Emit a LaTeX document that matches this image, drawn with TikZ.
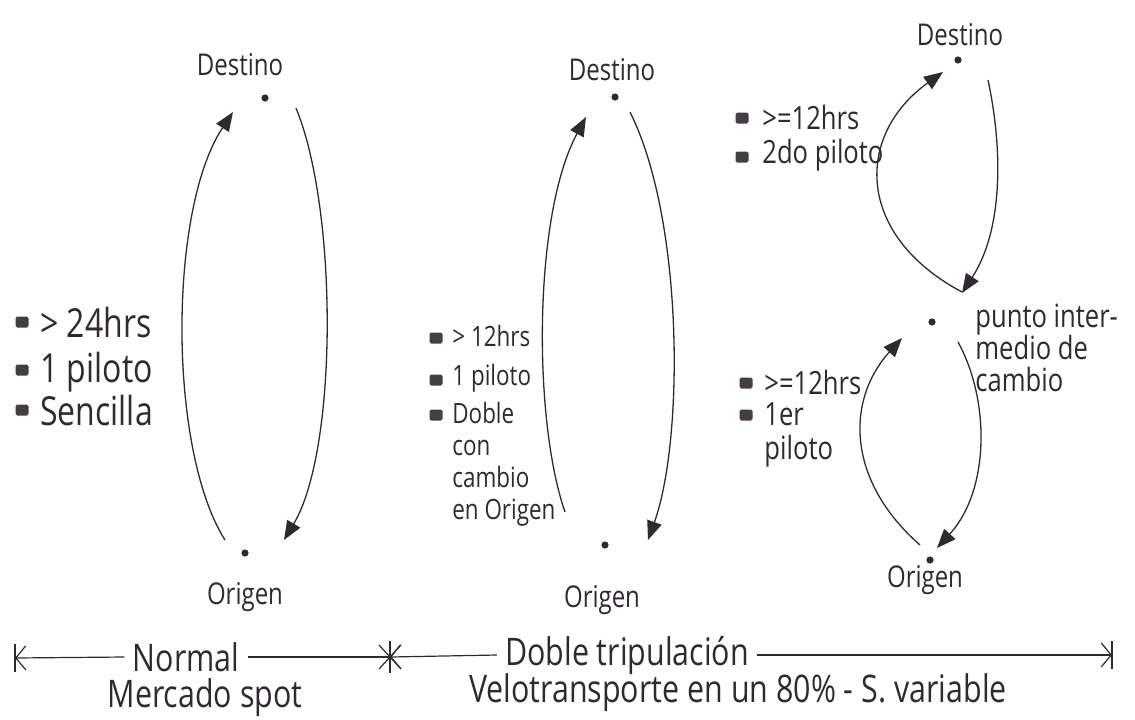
\documentclass[tikz,border=0pt]{standalone}
\usepackage{fontspec}
\setmainfont{Open Sans}[FakeStretch=0.8]
\usetikzlibrary{arrows.meta}
\definecolor{ink}{RGB}{48,42,48}
\begin{document}
\begin{tikzpicture}[x=0.5pt,y=-0.5pt,
  every node/.style={text=ink, inner sep=0pt},
  place/.style={font=\fontsize{15}{18}\selectfont},
  pt/.style={circle, fill=ink, minimum size=3.6pt},
  sq/.style={rectangle, rounded corners=0.8pt, fill=ink!90, minimum width=6.5pt, minimum height=5.5pt},
  itemL/.style={anchor=west, font=\fontsize{20}{24}\selectfont},
  itemM/.style={anchor=west, font=\fontsize{14}{16}\selectfont},
  itemR/.style={anchor=west, font=\fontsize{16}{17}\selectfont, align=left},
  route/.style={draw=ink, line width=0.65pt, -{Triangle[length=9.5pt,width=7.5pt]}},
  axis/.style={draw=ink, line width=0.6pt},
  barb/.style={{Straight Barb[length=5pt,width=12pt]}-},
  bottom/.style={font=\fontsize{19}{22}\selectfont}]
\useasboundingbox (0,0) rectangle (1135,719);

% ---------- Normal: single driver ----------
\node[place] (dest1) at (240,65) {Destino};
\node[pt] (d1) at (265,98) {};
\node[place] (orig1) at (245,597) {Origen};
\node[pt] (o1) at (245,553) {};
\coordinate (a1s) at (225,540);
\coordinate (a1e) at (233,112);
\coordinate (b1s) at (296,108);
\coordinate (b1e) at (284,540);
\draw[route] (a1s) .. controls (168,450) and (168,210) .. (a1e);
\draw[route] (b1s) .. controls (338,210) and (338,450) .. (b1e);

\node[sq] (s11) at (22,322) {};
\node[itemL] (t11) at (40,322) {> 24hrs};
\node[sq] (s12) at (22,370) {};
\node[itemL] (t12) at (40,372) {1 piloto};
\node[sq] (s13) at (22,410) {};
\node[itemL] (t13) at (40,410) {Sencilla};

% ---------- Double crew, swap at origin ----------
\node[place] (dest2) at (612,70) {Destino};
\node[pt] (d2) at (615,97) {};
\node[place] (orig2) at (602,600) {Origen};
\node[pt] (o2) at (605,545) {};
\coordinate (a2s) at (565,512);
\coordinate (a2e) at (586,117);
\coordinate (b2s) at (630,112);
\coordinate (b2e) at (648,540);
\draw[route] (a2s) .. controls (533,420) and (533,215) .. (a2e);
\draw[route] (b2s) .. controls (684,220) and (684,440) .. (b2e);

\node[sq] (s21) at (436,338) {};
\node[itemM] (t21) at (452,336) {> 12hrs};
\node[sq] (s22) at (436,380) {};
\node[itemM] (t22) at (452,378) {1 piloto};
\node[sq] (s23) at (436,415) {};
\node[itemM, anchor=north west, align=left, font=\fontsize{14}{16}\selectfont] (t23) at (452,402) {Doble\\con\\cambio\\en Origen};

% ---------- Double crew, swap at midpoint ----------
\node[place] (dest3) at (960,35) {Destino};
\node[pt] (d3) at (958,60) {};
\node[pt] (m3) at (932,322) {};
\node[anchor=north west, align=left, font=\fontsize{16}{16}\selectfont] (mid3) at (975,304) {punto inter-\\medio de\\cambio};
\node[place] (orig3) at (925,580) {Origen};
\node[pt] (o3) at (930,560) {};
\coordinate (a3s) at (962,292);
\coordinate (a3e) at (943,72);
\coordinate (b3s) at (988,80);
\coordinate (b3e) at (962,293);
\coordinate (c3s) at (920,545);
\coordinate (c3e) at (902,338);
\coordinate (e3s) at (958,342);
\coordinate (e3e) at (937,548);
\draw[route] (a3s) .. controls (855,235) and (855,135) .. (a3e);
\draw[route] (b3s) .. controls (1003,150) and (1003,230) .. (b3e);
\draw[route] (c3s) .. controls (846,480) and (846,400) .. (c3e);
\draw[route] (e3s) .. controls (990,400) and (990,490) .. (e3e);

\node[sq] (s31) at (742,118) {};
\node[itemR] (t31) at (762,117) {>=12hrs};
\node[sq] (s32) at (742,157) {};
\node[itemR] (t32) at (762,155) {2do piloto};
\node[sq] (s33) at (746,383) {};
\node[itemR] (t33) at (764,382) {>=12hrs};
\node[sq] (s34) at (746,415) {};
\node[itemR, anchor=north west] (t34) at (764,402) {1er\\piloto};

% ---------- Bottom scale ----------
\coordinate (L) at (15,658);
\coordinate (S) at (390,657);
\coordinate (R) at (1112,655);
\node[bottom] (normal) at (186,657) {Normal};
\node[bottom] (doble) at (627,655) {Doble tripulación};
\node[bottom] (spot) at (205,698) {Mercado spot};
\node[bottom] (velo) at (738,693) {Velotransporte en un 80\% - S. variable};

\draw[axis, barb] (L) -- ([xshift=-4pt]normal.west);
\draw[axis] ([xshift=4pt]normal.east) -- (S);
\draw[axis, barb] (S) -- ([xshift=-4pt]doble.west);
\draw[axis, -{Straight Barb[length=5pt,width=12pt]}] ([xshift=4pt]doble.east) -- (R);
% end bars and the asterisk at the split
\draw[axis] (L) ++(0,-14) -- ++(0,28);
\draw[axis] (R) ++(0,-14) -- ++(0,28);
\draw[axis] (S) ++(0,-16) -- ++(0,32);
\draw[axis] (S) ++(-11,-12) -- ++(22,24);
\draw[axis] (S) ++(-11,12) -- ++(22,-24);
\end{tikzpicture}
\end{document}
